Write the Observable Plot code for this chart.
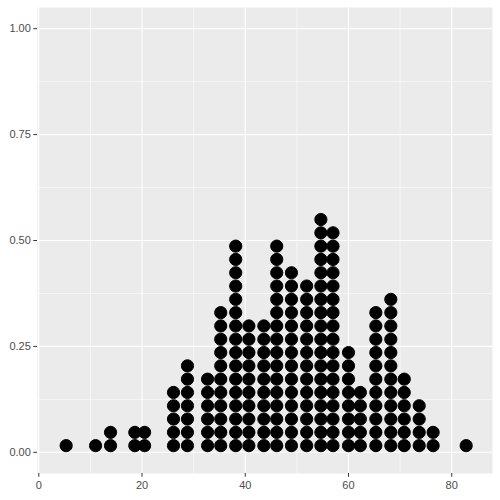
<!DOCTYPE html>
<html>
<head>
<meta charset="utf-8">
<script src="https://cdn.jsdelivr.net/npm/d3@7"></script>
<script src="https://cdn.jsdelivr.net/npm/@observablehq/plot@0.6"></script>
<style>
  html, body { margin: 0; padding: 0; background: #ffffff; }
  #chart { width: 500px; height: 500px; }
</style>
</head>
<body>
<div id="chart"></div>
<script>
// Bin centres (x) of the dot-plot columns and number of stacked dots in each
const binX = [5.3, 11.0, 13.9, 18.6, 20.5, 26.1, 28.8, 32.7, 35.25, 38.15, 40.7, 43.6, 46.1,
              48.95, 51.9, 54.65, 57.0, 60.0, 62.3, 65.3, 68.2, 70.8, 73.7, 76.4, 82.8];
const binCount = [1, 1, 2, 2, 2, 5, 7, 6, 11, 16, 10, 10, 16,
                  14, 13, 18, 17, 8, 5, 11, 12, 6, 4, 2, 1];

const xTicks = [0, 20, 40, 60, 80];
const xMinor = [10, 30, 50, 70];
const yTicks = [0, 0.25, 0.5, 0.75, 1];
const yMinor = [0.125, 0.375, 0.625, 0.875];

// dot stack step in y units (one dot diameter)
const dotStep = 0.0314;

const dots = [];
binX.forEach((x, i) => {
  for (let k = 0; k < binCount[i]; k++) dots.push({x, y: (k + 0.5) * dotStep});
});

const chart = Plot.plot({
  width: 500,
  height: 500,
  marginLeft: 37,
  marginRight: 8,
  marginTop: 7,
  marginBottom: 27,
  style: {fontFamily: "'Liberation Sans', Arial, sans-serif", fontSize: "11px", background: "#ffffff"},
  x: {domain: [-0.25, 87.9]},
  y: {domain: [-0.05, 1.05]},
  marks: [
    Plot.frame({fill: "#EBEBEB", stroke: null}),
    Plot.ruleX(xMinor, {stroke: "#ffffff", strokeWidth: 0.55}),
    Plot.ruleY(yMinor, {stroke: "#ffffff", strokeWidth: 0.55}),
    Plot.ruleX(xTicks, {stroke: "#ffffff", strokeWidth: 1.1}),
    Plot.ruleY(yTicks, {stroke: "#ffffff", strokeWidth: 1.1}),
    Plot.dot(dots, {x: "x", y: "y", r: 6.1, fill: "#000000", stroke: "#000000", strokeWidth: 1}),
    Plot.axisX({ticks: xTicks, tickSize: 3.7, tickPadding: 4, stroke: "#333333", fill: "#4D4D4D", label: null, tickFormat: d3.format("d")}),
    Plot.axisY({ticks: yTicks, tickSize: 3.7, tickPadding: 3, stroke: "#333333", fill: "#4D4D4D", label: null, tickFormat: d3.format(".2f")})
  ]
});
document.getElementById("chart").appendChild(chart);
</script>
</body>
</html>
